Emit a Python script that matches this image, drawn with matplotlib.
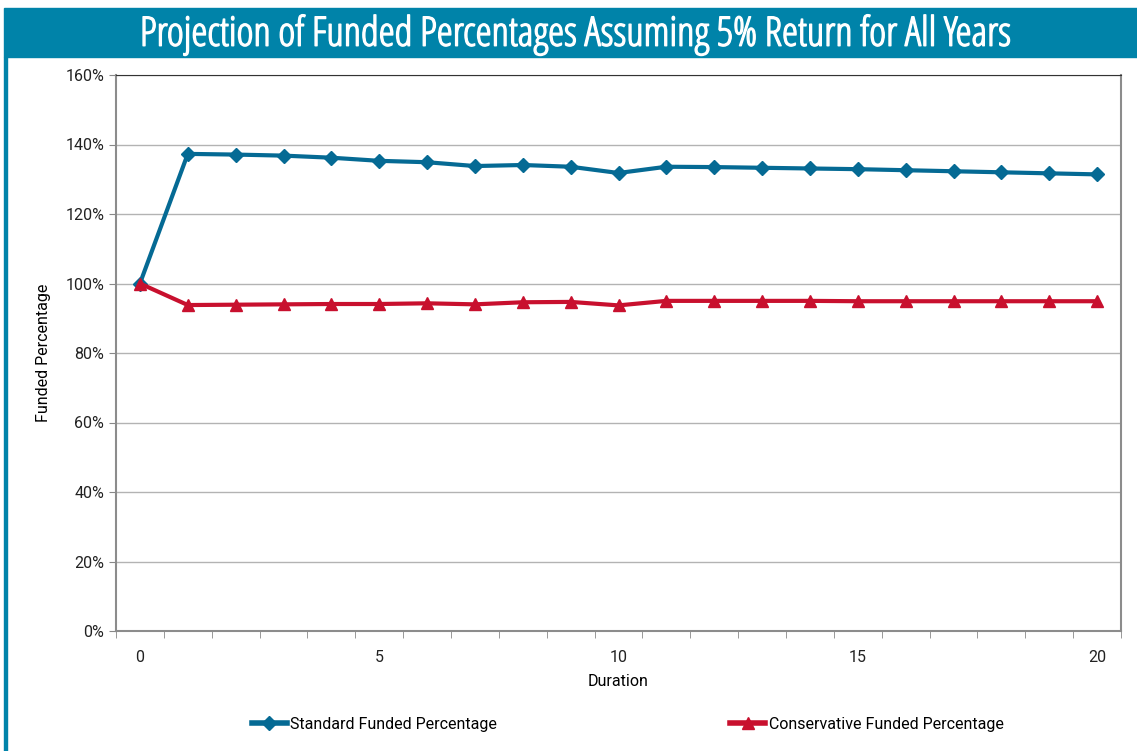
import numpy as np
import matplotlib.pyplot as plt
import matplotlib.patheffects as pe
from matplotlib.ticker import FixedLocator, FuncFormatter
from matplotlib.patches import Rectangle
from matplotlib.lines import Line2D

durations = list(range(21))
standard = [100.0, 137.3, 137.1, 136.8, 136.2, 135.3, 134.9, 133.8, 134.1, 133.6, 131.8,
            133.6, 133.5, 133.3, 133.1, 132.9, 132.6, 132.3, 132.0, 131.7, 131.4]
conservative = [100.0, 93.8, 93.9, 94.0, 94.1, 94.1, 94.3, 94.0, 94.6, 94.7, 93.7,
                95.0, 95.0, 95.0, 95.0, 94.9, 94.9, 94.9, 94.9, 94.9, 94.9]
yticks = [0, 20, 40, 60, 80, 100, 120, 140, 160]
xlabels = [0, 5, 10, 15, 20]

title = "Projection of Funded Percentages Assuming 5% Return for All Years"
blue = "#056a94"
red = "#c8102e"
teal = "#0083a9"

plt.rcParams["font.family"] = ["Roboto", "DejaVu Sans"]

fig = plt.figure(figsize=(11.37, 7.51), dpi=100)

# banner and left rule
fig.patches.append(Rectangle((4 / 1137, 1 - 57 / 751), 1 - 4 / 1137, 49 / 751,
                             transform=fig.transFigure, color=teal, zorder=0))
fig.patches.append(Rectangle((4 / 1137, 0), 3 / 1137, 1 - 57 / 751,
                             transform=fig.transFigure, color=teal, zorder=0))
fig.text(0.506, 1 - 35 / 751, title, color="white", ha="center", va="center",
         fontsize=29.3, family=["Open Sans", "DejaVu Sans"], fontstretch="condensed",
         path_effects=[pe.withStroke(linewidth=1.0, foreground="white")])

ax = fig.add_axes([116 / 1137, 1 - 631 / 751, (1121 - 116) / 1137, (631 - 75) / 751])

ax.plot(durations, standard, color=blue, lw=3, marker="D", ms=7, label="Standard Funded Percentage",
        zorder=3)
ax.plot(durations, conservative, color=red, lw=3, marker="^", ms=9, label="Conservative Funded Percentage",
        zorder=3)

ax.set_xlim(-0.5, 20.5)
ax.set_ylim(0, 160)
ax.set_yticks(yticks)
ax.yaxis.set_major_formatter(FuncFormatter(lambda v, p: "{:.0f}%".format(v)))
ax.grid(axis="y", color="#b3b3b3", lw=1)
ax.set_axisbelow(True)

ax.xaxis.set_major_locator(FixedLocator(xlabels))
ax.xaxis.set_minor_locator(FixedLocator(np.arange(-0.5, 21, 1)))
ax.tick_params(axis="x", which="major", length=0, pad=14, labelsize=11.5, colors="#222222")
ax.tick_params(axis="x", which="minor", length=5, color="#888888", direction="out")
ax.tick_params(axis="y", length=5, color="#888888", labelsize=11.5, colors="#222222")

for s in ["left", "bottom", "right"]:
    ax.spines[s].set_color("#8c8c8c")
    ax.spines[s].set_linewidth(1.5)
ax.spines["top"].set_color("#333333")

ax.set_xlabel("Duration", fontsize=11.5, labelpad=6)
ax.set_ylabel("Funded Percentage", fontsize=11.5, labelpad=10)

handles = [Line2D([], [], color=blue, lw=4, marker="D", ms=7),
           Line2D([], [], color=red, lw=4, marker="^", ms=9)]
fig.legend(handles, ["Standard Funded Percentage", "Conservative Funded Percentage"],
           loc="center", bbox_to_anchor=(0.552, 1 - 724 / 751), ncol=2, frameon=False,
           fontsize=11.5, handlelength=2.2, handletextpad=0.2, columnspacing=14.6)

plt.savefig("out.png", dpi=100)
